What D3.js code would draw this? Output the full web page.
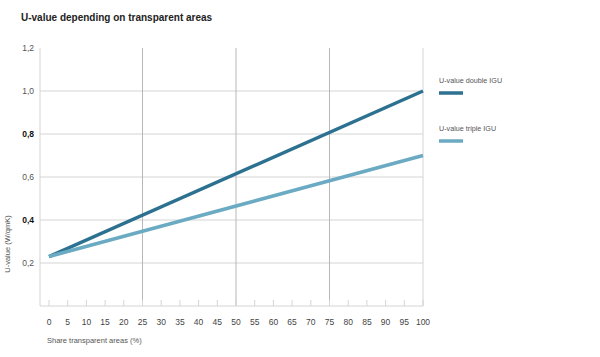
<!DOCTYPE html>
<html><head><meta charset="utf-8">
<script src="https://cdn.jsdelivr.net/npm/d3@7"></script>
<style>body{margin:0;background:#fff;} text{font-family:"Liberation Sans",Arial,sans-serif;}</style>
</head><body>
<svg id="c" width="600" height="357"></svg>
<script>
const shares = [0, 100];
const doubleIGU = [0.23, 1.0];
const tripleIGU = [0.23, 0.70];
const xTicks = d3.range(0, 101, 5);
const yTicks = [0.2, 0.4, 0.6, 0.8, 1.0, 1.2];
const yBold = [0.4, 0.8];
const seriesNames = ["U-value double IGU", "U-value triple IGU"];
const colors = ["#2d7190", "#6aaac2"];

const svg = d3.select("#c");
const x = d3.scaleLinear().domain([0, 100]).range([49, 423]);
const y = d3.scaleLinear().domain([0, 1.2]).range([306, 48]);
const grid = "#d4d4d4";

svg.append("text").attr("x", 21).attr("y", 21).attr("font-size", 10).attr("font-weight", "bold").attr("fill", "#222").text("U-value depending on transparent areas");

// horizontal gridlines
svg.selectAll(".hg").data(yTicks.filter(d => d < 1.2)).enter().append("line")
  .attr("x1", 40).attr("x2", 423).attr("y1", d => y(d)).attr("y2", d => y(d))
  .attr("stroke", grid).attr("stroke-width", 1);
// vertical gridlines
svg.selectAll(".vg").data([25, 50, 75]).enter().append("line")
  .attr("x1", d => x(d)).attr("x2", d => x(d)).attr("y1", 48).attr("y2", 306)
  .attr("stroke", "#b8b8b8").attr("stroke-width", 1);
svg.append("line").attr("x1", x(100)).attr("x2", x(100)).attr("y1", 48).attr("y2", 306).attr("stroke", grid);
svg.append("line").attr("x1", 40).attr("x2", 40).attr("y1", 48).attr("y2", 306).attr("stroke", grid);
svg.append("line").attr("x1", 40).attr("x2", 423).attr("y1", 306).attr("y2", 306).attr("stroke", grid);

// x ticks
svg.selectAll(".xt").data(xTicks).enter().append("line")
  .attr("x1", d => x(d)).attr("x2", d => x(d)).attr("y1", 306).attr("y2", 300)
  .attr("stroke", grid);
svg.selectAll(".xl").data(xTicks).enter().append("text")
  .attr("x", d => x(d)).attr("y", 325).attr("text-anchor", "middle")
  .attr("font-size", 8.5).attr("fill", "#444").text(d => d);
svg.append("text").attr("x", 47).attr("y", 343).attr("font-size", 7.5).attr("fill", "#555").text("Share transparent areas (%)");

// y labels
const fmt = d => d3.format(".1f")(d).replace(".", ",");
svg.selectAll(".yl").data(yTicks).enter().append("text")
  .attr("x", 34).attr("y", d => y(d) + 3).attr("text-anchor", "end")
  .attr("font-size", 8.5).attr("fill", d => yBold.includes(d) ? "#111" : "#555")
  .attr("font-weight", d => yBold.includes(d) ? "bold" : "normal").text(fmt);
svg.append("text").attr("transform", "translate(10,244) rotate(-90)").attr("text-anchor", "middle")
  .attr("font-size", 7.5).attr("fill", "#555").text("U-value (W/qmK)");

// lines
const line = d3.line().x((d, i) => x(shares[i])).y(d => y(d));
[doubleIGU, tripleIGU].forEach((s, i) => {
  svg.append("path").datum(s).attr("d", line).attr("fill", "none")
    .attr("stroke", colors[i]).attr("stroke-width", 3.5);
});

// legend
const ly = [83, 131];
seriesNames.forEach((n, i) => {
  svg.append("text").attr("x", 439).attr("y", ly[i]).attr("font-size", 7.2).attr("fill", "#555").text(n);
  svg.append("line").attr("x1", 439).attr("x2", 463).attr("y1", ly[i] + 10).attr("y2", ly[i] + 10)
    .attr("stroke", colors[i]).attr("stroke-width", 3.5);
});
</script>
</body></html>
